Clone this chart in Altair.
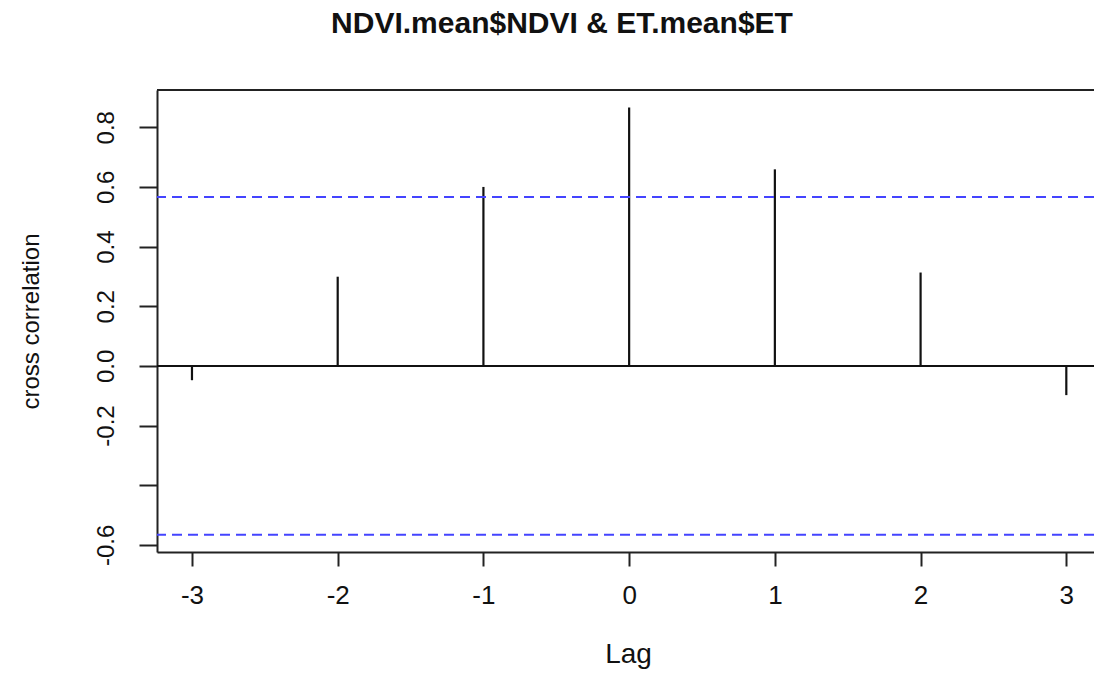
import altair as alt
import pandas as pd

lags = [-3, -2, -1, 0, 1, 2, 3]
ccf_values = [-0.048, 0.299, 0.60, 0.866, 0.659, 0.313, -0.098]
conf_limit = 0.566

x_domain = [-3.24, 3.19]
y_domain = [-0.624, 0.925]
y_ticks = [-0.6, -0.4, -0.2, 0.0, 0.2, 0.4, 0.6, 0.8]
x_ticks = [-3, -2, -1, 0, 1, 2, 3]
title_text = ["NDVI.mean$NDVI & ET.mean$ET"]

FONT = "Liberation Sans"
W, H = 937, 462

df = pd.DataFrame({"lag": lags, "ccf": ccf_values, "zero": [0.0] * len(lags)})
ci = pd.DataFrame({"v": [conf_limit, -conf_limit]})
tdf = pd.DataFrame({"t": title_text})

xs = alt.Scale(domain=x_domain, nice=False, zero=False)
ys = alt.Scale(domain=y_domain, nice=False, zero=False)

x_axis = alt.Axis(
    values=x_ticks, title="Lag", grid=False, tickSize=14, tickWidth=2, tickColor="#222",
    domainColor="#222", domainWidth=2, labelFont=FONT, labelFontSize=26, labelColor="#111",
    labelPadding=16, labelFlush=False,
    labelExpr="datum.value < 0 ? '-' + abs(datum.value) : '' + datum.value",
    titleFont=FONT, titleFontSize=28,
    titleFontWeight="normal", titleColor="#111", titleX=471, titleY=110,
    titleBaseline="alphabetic", titleAlign="center", titleAnchor="start",
)
y_axis = alt.Axis(
    values=y_ticks, title="cross correlation", grid=False, tickSize=18, tickWidth=2,
    tickColor="#222", domainColor="#222", domainWidth=2, labelFont=FONT, labelFontSize=24,
    labelColor="#111", labelAngle=270, labelAlign="center", labelBaseline="bottom",
    labelPadding=21, labelFlush=False,
    labelExpr="datum.value > -0.45 && datum.value < -0.35 ? '' : (datum.value < 0 ? '-' + format(abs(datum.value), '.1f') : format(datum.value, '.1f'))",
    titleFont=FONT, titleFontSize=24, titleFontWeight="normal", titleColor="#111",
    titleAngle=270, titleX=-119, titleY=H / 2, titleBaseline="alphabetic",
    titleAlign="center", titleAnchor="start",
)

stems = alt.Chart(df).mark_rule(color="#111", strokeWidth=2.2).encode(
    x=alt.X("lag:Q", scale=xs, axis=x_axis),
    y=alt.Y("zero:Q", scale=ys, axis=y_axis),
    y2="ccf:Q",
)

zero_line = alt.Chart(df).mark_rule(color="#111", strokeWidth=2).encode(
    y=alt.Y("v:Q", scale=ys),
).transform_aggregate(v="min(zero)")

ci_lines = alt.Chart(ci).mark_rule(color="#4444ff", strokeWidth=2, strokeDash=[10, 6]).encode(
    y=alt.Y("v:Q", scale=ys),
)

top_border = alt.Chart(ci).mark_rule(color="#222", strokeWidth=2).encode(
    x=alt.value(0), x2=alt.value(W), y=alt.value(0)
)

title = alt.Chart(tdf).mark_text(
    font=FONT, fontSize=30, fontWeight="bold", color="#111",
    align="center", baseline="alphabetic",
).encode(text="t:N", x=alt.value(562 - 157), y=alt.value(33 - 90))

chart = alt.layer(stems, zero_line, ci_lines, top_border, title).properties(
    width=W,
    height=H,
    autosize=alt.AutoSizeParams(type="none"),
    padding={"left": 157, "top": 90, "right": 0, "bottom": 121},
).configure_view(stroke=None).configure(background="white")

chart.save("out.html", embed_options={"renderer": "svg", "actions": False})
